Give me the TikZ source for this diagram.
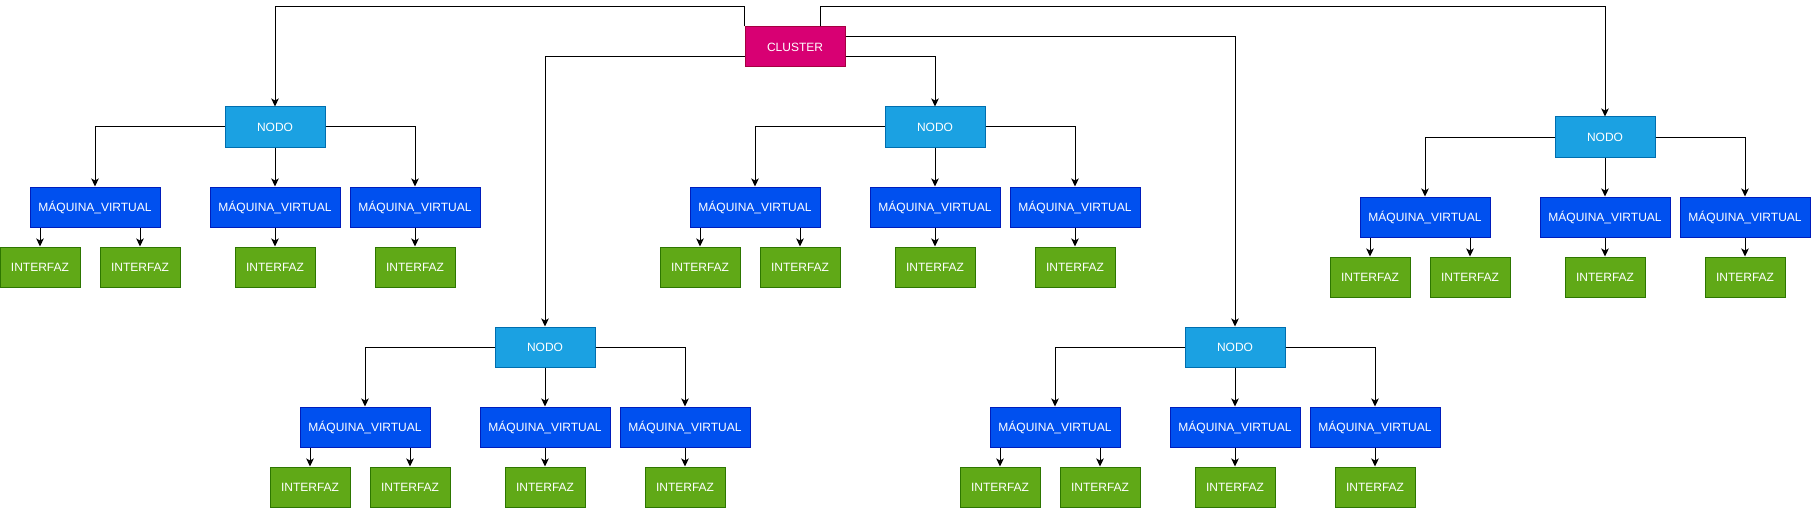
\documentclass[tikz,border=0pt]{standalone}
\usepackage{fontspec}
\setmainfont{Liberation Sans}
\usetikzlibrary{arrows.meta}
\definecolor{clusterfill}{HTML}{D80073}
\definecolor{clusterline}{HTML}{A50040}
\definecolor{nodofill}{HTML}{1BA1E2}
\definecolor{nodoline}{HTML}{006EAF}
\definecolor{vmfill}{HTML}{0050EF}
\definecolor{vmline}{HTML}{001DBC}
\definecolor{iffill}{HTML}{60A917}
\definecolor{ifline}{HTML}{2D7600}
\begin{document}
\begin{tikzpicture}[x=1pt,y=-1pt]
		\tikzset{box/.style = {shape=rectangle,draw,line width=1pt,text=white,inner sep=0pt,minimum height=40pt,font=\fontsize{12}{14}\selectfont}}
		\tikzset{clusterbox/.style = {box,fill=clusterfill,draw=clusterline,minimum width=100pt}}
		\tikzset{nodobox/.style = {box,fill=nodofill,draw=nodoline,minimum width=100pt}}
		\tikzset{vmbox/.style = {box,fill=vmfill,draw=vmline,minimum width=130pt}}
		\tikzset{ifbox/.style = {box,fill=iffill,draw=ifline,minimum width=80pt}}
		\tikzset{edge/.style = {-{Stealth[length=8pt,width=7.5pt,inset=2pt]},draw,line width=1pt}}
		\useasboundingbox (0,0) rectangle (1811,508);
		\node[clusterbox] (c) at (795,47) {CLUSTER};
		% group 1
		\node[nodobox] (n1) at (275,127) {NODO};
		\node[vmbox] (v1a) at (95,207) {MÁQUINA\_VIRTUAL};
		\node[vmbox] (v1b) at (275,207) {MÁQUINA\_VIRTUAL};
		\node[vmbox] (v1c) at (415,207) {MÁQUINA\_VIRTUAL};
		\node[ifbox] (i1a) at (40,267) {INTERFAZ};
		\node[ifbox] (i1b) at (140,267) {INTERFAZ};
		\node[ifbox] (i1c) at (275,267) {INTERFAZ};
		\node[ifbox] (i1d) at (415,267) {INTERFAZ};
		% group 2
		\node[nodobox] (n2) at (935,127) {NODO};
		\node[vmbox] (v2a) at (755,207) {MÁQUINA\_VIRTUAL};
		\node[vmbox] (v2b) at (935,207) {MÁQUINA\_VIRTUAL};
		\node[vmbox] (v2c) at (1075,207) {MÁQUINA\_VIRTUAL};
		\node[ifbox] (i2a) at (700,267) {INTERFAZ};
		\node[ifbox] (i2b) at (800,267) {INTERFAZ};
		\node[ifbox] (i2c) at (935,267) {INTERFAZ};
		\node[ifbox] (i2d) at (1075,267) {INTERFAZ};
		% group 3
		\node[nodobox] (n3) at (1605,137) {NODO};
		\node[vmbox] (v3a) at (1425,217) {MÁQUINA\_VIRTUAL};
		\node[vmbox] (v3b) at (1605,217) {MÁQUINA\_VIRTUAL};
		\node[vmbox] (v3c) at (1745,217) {MÁQUINA\_VIRTUAL};
		\node[ifbox] (i3a) at (1370,277) {INTERFAZ};
		\node[ifbox] (i3b) at (1470,277) {INTERFAZ};
		\node[ifbox] (i3c) at (1605,277) {INTERFAZ};
		\node[ifbox] (i3d) at (1745,277) {INTERFAZ};
		% group 4
		\node[nodobox] (n4) at (545,347) {NODO};
		\node[vmbox] (v4a) at (365,427) {MÁQUINA\_VIRTUAL};
		\node[vmbox] (v4b) at (545,427) {MÁQUINA\_VIRTUAL};
		\node[vmbox] (v4c) at (685,427) {MÁQUINA\_VIRTUAL};
		\node[ifbox] (i4a) at (310,487) {INTERFAZ};
		\node[ifbox] (i4b) at (410,487) {INTERFAZ};
		\node[ifbox] (i4c) at (545,487) {INTERFAZ};
		\node[ifbox] (i4d) at (685,487) {INTERFAZ};
		% group 5
		\node[nodobox] (n5) at (1235,347) {NODO};
		\node[vmbox] (v5a) at (1055,427) {MÁQUINA\_VIRTUAL};
		\node[vmbox] (v5b) at (1235,427) {MÁQUINA\_VIRTUAL};
		\node[vmbox] (v5c) at (1375,427) {MÁQUINA\_VIRTUAL};
		\node[ifbox] (i5a) at (1000,487) {INTERFAZ};
		\node[ifbox] (i5b) at (1100,487) {INTERFAZ};
		\node[ifbox] (i5c) at (1235,487) {INTERFAZ};
		\node[ifbox] (i5d) at (1375,487) {INTERFAZ};
		% cluster to nodes
		\draw[edge] (c.north west) -- ++(0,-20) -| (n1);
		\draw[edge] ([xshift=25pt]c.north) -- ++(0,-20) -| (n3);
		\draw[edge] ([yshift=-10pt]c.east) -| (n2);
		\draw[edge] ([yshift=10pt]c.east) -| (n5);
		\draw[edge] ([yshift=-10pt]c.west) -| (n4);
		% nodes to machines to interfaces
		\foreach \g in {1,...,5}{
			\draw[edge] (n\g.west) -| (v\g a);
			\draw[edge] (n\g) -- (v\g b);
			\draw[edge] (n\g.east) -| (v\g c);
			\draw[edge] (v\g a.south -| i\g a) -- (i\g a);
			\draw[edge] (v\g a.south -| i\g b) -- (i\g b);
			\draw[edge] (v\g b) -- (i\g c);
			\draw[edge] (v\g c) -- (i\g d);
		}
	\end{tikzpicture}
\end{document}
